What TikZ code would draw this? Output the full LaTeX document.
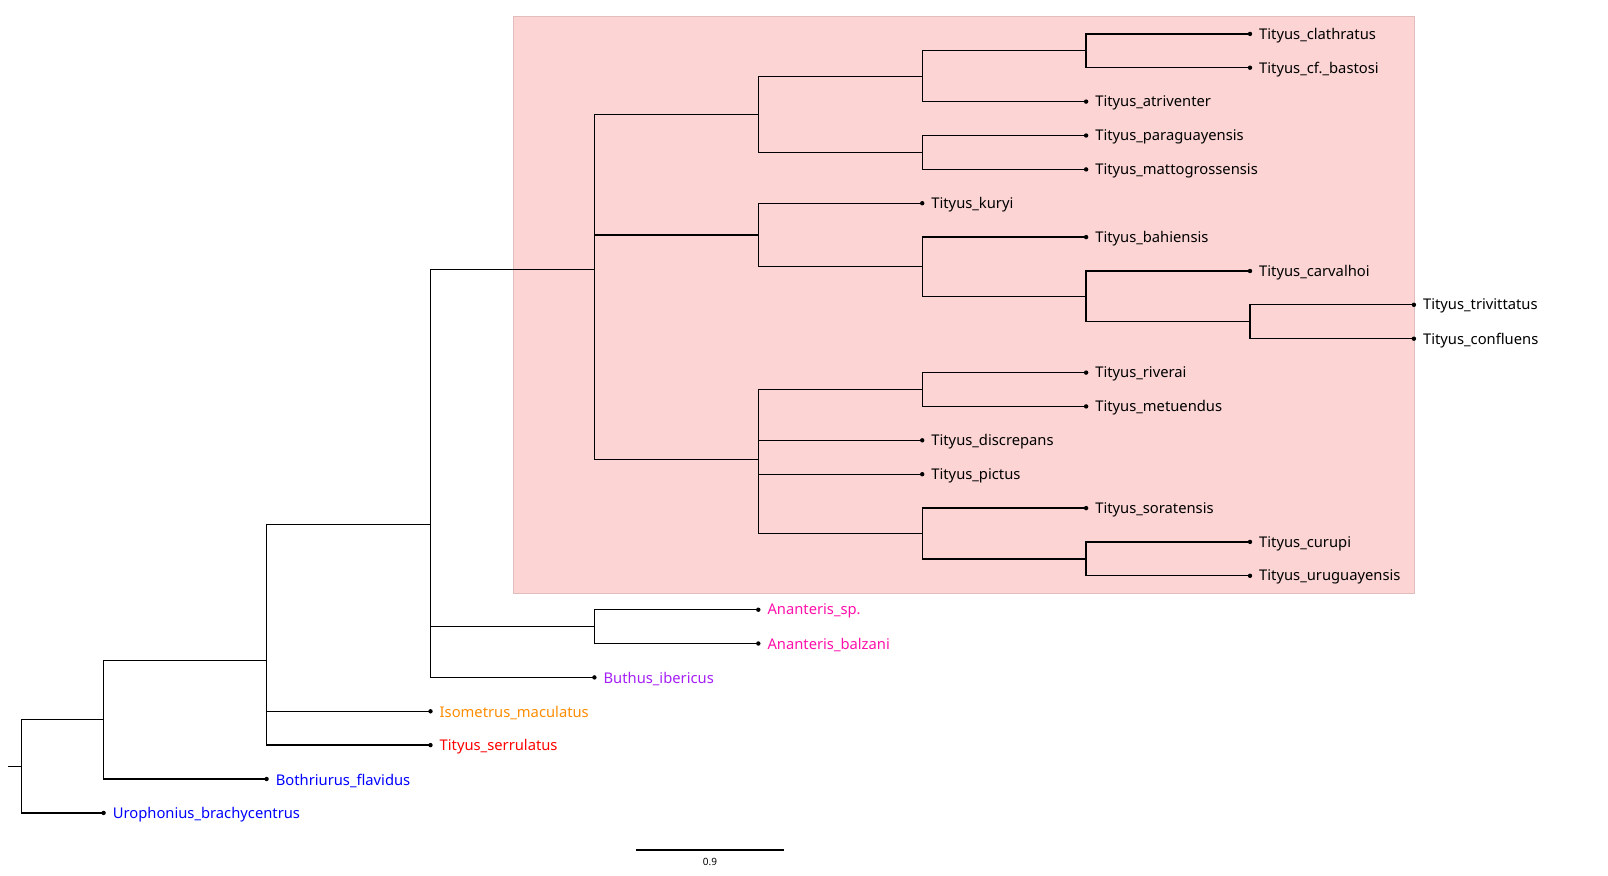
\documentclass[tikz,border=0pt]{standalone}
\usepackage{fontspec}
\setmainfont{Noto Sans}
\definecolor{boxfill}{HTML}{FCD4D4}
\definecolor{boxline}{HTML}{E2BDBD}
\definecolor{cAnan}{HTML}{FF10AA}
\definecolor{cButh}{HTML}{A51EF5}
\definecolor{cIso}{HTML}{FF8C00}
\definecolor{cRed}{HTML}{FF0000}
\definecolor{cBlue}{HTML}{0000FF}
\begin{document}
\begin{tikzpicture}[x=1pt,y=-1pt,
  branch/.style={line width=1.3pt,black},
  leafdot/.style={circle,fill=black,inner sep=0pt,minimum size=4.4pt},
  taxon/.style={anchor=west,inner sep=0pt,font=\fontsize{14.75}{18}\selectfont},
]
\useasboundingbox (0,0) rectangle (1608,875);
% highlight box
\node[draw=boxline,fill=boxfill,line width=0.8pt,inner sep=0pt,minimum width=901pt,minimum height=577pt,anchor=north west] (hl) at (512.5,16) {};

% leaves: \leafnode{name}{x}{y}{label}{color}
\newcommand{\leafnode}[5]{%
  \node[leafdot] (#1) at (#2,#3) {};
  \node[taxon,text=#5] (#1l) at ([xshift=9pt,yshift=-1.5pt]#1.center) {#4};
}
\leafnode{l1}{1250}{33.9}{Tityus\_clathratus}{black}
\leafnode{l2}{1250}{67.7}{Tityus\_cf.\_bastosi}{black}
\leafnode{l3}{1086.1}{101.6}{Tityus\_atriventer}{black}
\leafnode{l4}{1086.1}{135.5}{Tityus\_paraguayensis}{black}
\leafnode{l5}{1086.1}{169.4}{Tityus\_mattogrossensis}{black}
\leafnode{l6}{922.2}{203.2}{Tityus\_kuryi}{black}
\leafnode{l7}{1086.1}{237.1}{Tityus\_bahiensis}{black}
\leafnode{l8}{1250}{271.0}{Tityus\_carvalhoi}{black}
\leafnode{l9}{1413.9}{304.8}{Tityus\_trivittatus}{black}
\leafnode{l10}{1413.9}{338.7}{Tityus\_confluens}{black}
\leafnode{l11}{1086.1}{372.6}{Tityus\_riverai}{black}
\leafnode{l12}{1086.1}{406.4}{Tityus\_metuendus}{black}
\leafnode{l13}{922.2}{440.3}{Tityus\_discrepans}{black}
\leafnode{l14}{922.2}{474.2}{Tityus\_pictus}{black}
\leafnode{l15}{1086.1}{508.1}{Tityus\_soratensis}{black}
\leafnode{l16}{1250}{541.9}{Tityus\_curupi}{black}
\leafnode{l17}{1250}{575.8}{Tityus\_uruguayensis}{black}
\leafnode{l18}{758.3}{609.7}{Ananteris\_sp.}{cAnan}
\leafnode{l19}{758.3}{643.5}{Ananteris\_balzani}{cAnan}
\leafnode{l20}{594.4}{677.4}{Buthus\_ibericus}{cButh}
\leafnode{l21}{430.5}{711.3}{Isometrus\_maculatus}{cIso}
\leafnode{l22}{430.5}{745.1}{Tityus\_serrulatus}{cRed}
\leafnode{l23}{266.6}{779.0}{Bothriurus\_flavidus}{cBlue}
\leafnode{l24}{103.6}{812.9}{Urophonius\_brachycentrus}{cBlue}

% internal nodes
\coordinate (G1) at (1086.1,50.8);
\coordinate (F1) at (922.2,76.2);
\coordinate (F2) at (922.2,152.4);
\coordinate (E1) at (758.3,114.3);
\coordinate (H)  at (1250,321.75);
\coordinate (G2) at (1086.1,296.4);
\coordinate (F3) at (922.2,266.7);
\coordinate (E2) at (758.3,235.0);
\coordinate (F4) at (922.2,389.5);
\coordinate (G3) at (1086.1,558.9);
\coordinate (F5) at (922.2,533.5);
\coordinate (E3) at (758.3,459.4);
\coordinate (D)  at (594.4,269.6);
\coordinate (AN) at (594.4,626.6);
\coordinate (C)  at (430.5,524.5);
\coordinate (B)  at (266.6,660.3);
\coordinate (A)  at (103.6,719.7);
\coordinate (R)  at (21.5,766.3);
\coordinate (Rstub) at (7.5,766.3);

\begin{scope}[branch]
\draw (R) -- (Rstub);
\draw (R) |- (A);  \draw (R) |- (l24.center);
\draw (A) |- (B);  \draw (A) |- (l23.center);
\draw (B) |- (C);  \draw (B) |- (l21.center); \draw (B) |- (l22.center);
\draw (C) |- (D);  \draw (C) |- (AN); \draw (C) |- (l20.center);
\draw (AN) |- (l18.center); \draw (AN) |- (l19.center);
\draw (D) |- (E1); \draw (D) |- (E2); \draw (D) |- (E3);
\draw (E1) |- (F1); \draw (E1) |- (F2);
\draw (F1) |- (G1); \draw (F1) |- (l3.center);
\draw (G1) |- (l1.center); \draw (G1) |- (l2.center);
\draw (F2) |- (l4.center); \draw (F2) |- (l5.center);
\draw (E2) |- (l6.center); \draw (E2) |- (F3);
\draw (F3) |- (l7.center); \draw (F3) |- (G2);
\draw (G2) |- (l8.center); \draw (G2) |- (H);
\draw (H) |- (l9.center); \draw (H) |- (l10.center);
\draw (E3) |- (F4); \draw (E3) |- (l13.center); \draw (E3) |- (l14.center); \draw (E3) |- (F5);
\draw (F4) |- (l11.center); \draw (F4) |- (l12.center);
\draw (F5) |- (l15.center); \draw (F5) |- (G3);
\draw (G3) |- (l16.center); \draw (G3) |- (l17.center);
\end{scope}

% scale bar
\coordinate (sb1) at (636,850);
\coordinate (sb2) at (783.5,850);
\draw[line width=1.2pt] (sb1) -- (sb2);
\node[font=\fontsize{10}{12}\selectfont,inner sep=0pt] (sbl) at (710,862) {0.9};
\end{tikzpicture}
\end{document}
